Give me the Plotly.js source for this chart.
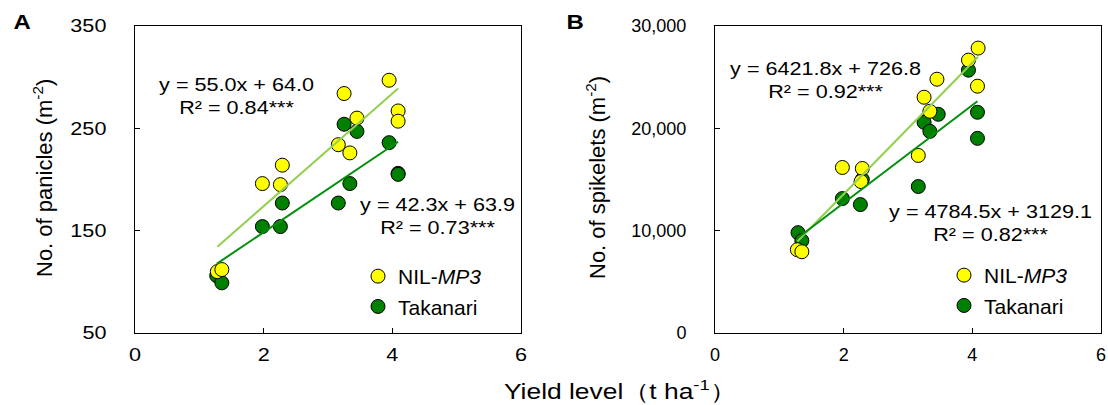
<!DOCTYPE html>
<html>
<head>
<meta charset="utf-8">
<script src="https://cdn.plot.ly/plotly-3.0.1.min.js"></script>
<style>html,body{margin:0;padding:0;background:#fff}#chart{width:1108px;height:405px}</style>
</head>
<body>
<div id="chart"></div>
<script>
// ---- Data ----
const xTicks = [0, 2, 4, 6];

// Panel A: panicles
const yieldA_NIL = [3.95, 3.25, 3.45, 4.09, 4.09, 3.16, 3.34, 2.29, 1.98, 2.26, 1.28, 1.35];
const paniclesNIL = [297, 284, 260, 267, 257, 234, 226, 214, 196, 195, 110, 112];
const yieldA_Tak = [3.25, 3.45, 3.95, 4.09, 4.09, 3.34, 3.16, 2.29, 1.98, 2.26, 1.27, 1.35];
const paniclesTak = [254, 247, 236, 206, 205, 196, 177, 177, 154, 154, 106, 99];
const panicleTicks = [50, 150, 250, 350];

// Panel B: spikelets
const yieldB_NIL = [4.09, 3.94, 3.45, 4.08, 3.25, 3.34, 3.16, 1.98, 2.29, 2.27, 1.28, 1.35];
const spikeletsNIL = [27843, 26667, 24800, 24118, 23040, 21667, 17350, 16176, 16078, 14800, 8137, 7941];
const yieldB_Tak = [3.94, 4.08, 4.08, 3.47, 3.25, 3.34, 3.16, 1.98, 2.26, 2.29, 1.29, 1.35];
const spikeletsTak = [25686, 21570, 19020, 21372, 20588, 19706, 14314, 13137, 12549, 15000, 9804, 9020];
const spikeletTicks = [0, 10000, 20000, 30000];

// Regression equations [slope, intercept]
const fitA_NIL = [55.0, 64.0];
const fitA_Tak = [42.3, 63.9];
const fitB_NIL = [6421.8, 726.8];
const fitB_Tak = [4784.5, 3129.1];

const labelsA = ["y = 55.0x + 64.0<br>R² = 0.84***", "y = 42.3x + 63.9<br>R² = 0.73***"];
const labelsB = ["y = 6421.8x + 726.8<br>R² = 0.92***", "y = 4784.5x + 3129.1<br>R² = 0.82***"];
const seriesNames = ["NIL-<i>MP3</i>", "Takanari"];

// ---- Styling ----
const FONT = '"Liberation Sans", Arial, sans-serif';
const YEL = '#ffff00', GRN = '#008000';
const LINE_YEL = '#92d050', LINE_GRN = '#00900a';
const STRETCH = 1.2; // the reference's text is horizontally wider than plain Arial

function fitLine(xs, fit) {
  const x0 = Math.min(...xs), x1 = Math.max(...xs);
  return { x: [x0, x1], y: [fit[0] * x0 + fit[1], fit[0] * x1 + fit[1]] };
}
function markers(color) {
  return { size: 14, color: color, line: { color: '#000', width: 1 } };
}

const lA1 = fitLine(yieldA_NIL, fitA_NIL), lA2 = fitLine(yieldA_Tak, fitA_Tak);
const lB1 = fitLine(yieldB_NIL, fitB_NIL), lB2 = fitLine(yieldB_Tak, fitB_Tak);

const traces = [
  { x: yieldA_Tak, y: paniclesTak, mode: 'markers', type: 'scatter', name: seriesNames[1], marker: markers(GRN), xaxis: 'x', yaxis: 'y', legend: 'legend', legendrank: 2, legendgroup: 'a2' },
  { x: yieldA_NIL, y: paniclesNIL, mode: 'markers', type: 'scatter', name: seriesNames[0], marker: markers(YEL), xaxis: 'x', yaxis: 'y', legend: 'legend', legendrank: 1, legendgroup: 'a1' },
  { x: lA1.x, y: lA1.y, mode: 'lines', type: 'scatter', line: { color: LINE_YEL, width: 2 }, showlegend: false, xaxis: 'x', yaxis: 'y' },
  { x: lA2.x, y: lA2.y, mode: 'lines', type: 'scatter', line: { color: LINE_GRN, width: 2 }, showlegend: false, xaxis: 'x', yaxis: 'y' },

  { x: yieldB_Tak, y: spikeletsTak, mode: 'markers', type: 'scatter', name: seriesNames[1], marker: markers(GRN), xaxis: 'x2', yaxis: 'y2', legend: 'legend2', legendrank: 2, legendgroup: 'b2' },
  { x: yieldB_NIL, y: spikeletsNIL, mode: 'markers', type: 'scatter', name: seriesNames[0], marker: markers(YEL), xaxis: 'x2', yaxis: 'y2', legend: 'legend2', legendrank: 1, legendgroup: 'b1' },
  { x: lB1.x, y: lB1.y, mode: 'lines', type: 'scatter', line: { color: LINE_YEL, width: 2 }, showlegend: false, xaxis: 'x2', yaxis: 'y2' },
  { x: lB2.x, y: lB2.y, mode: 'lines', type: 'scatter', line: { color: LINE_GRN, width: 2 }, showlegend: false, xaxis: 'x2', yaxis: 'y2' }
];

const W = 1108, H = 405;
const px = v => v / W, py = v => 1 - v / H;

function xAxis(domain, anchor) {
  return {
    domain: domain, anchor: anchor, range: [0, 6], tickvals: xTicks, ticktext: xTicks.map(String),
    ticks: 'inside', ticklen: 5, tickcolor: '#000', showline: true, linecolor: '#000', linewidth: 1,
    mirror: true, showgrid: false, zeroline: false, tickfont: { family: FONT, size: 18, color: '#000' },
    ticklabelstandoff: 5
  };
}
function yAxis(domain, anchor, range, ticks, fmt) {
  return {
    domain: domain, anchor: anchor, range: range, tickvals: ticks, tickformat: fmt,
    ticks: 'inside', ticklen: 5, tickcolor: '#000', showline: true, linecolor: '#000', linewidth: 1,
    mirror: true, showgrid: false, zeroline: false, tickfont: { family: FONT, size: 18, color: '#000' },
    ticklabelstandoff: 24
  };
}

const yDom = [py(333), py(26)];
const ann = (x, y, text, size, extra) => Object.assign({
  xref: 'paper', yref: 'paper', x: px(x), y: py(y), text: text, showarrow: false,
  xanchor: 'center', yanchor: 'middle', font: { family: FONT, size: size, color: '#000' }
}, extra || {});

const legendStyle = (x, y) => ({
  x: px(x), y: py(y), xanchor: 'left', yanchor: 'top', bgcolor: 'rgba(0,0,0,0)',
  font: { family: FONT, size: 21, color: '#000' }, traceorder: 'grouped', tracegroupgap: 0,
  itemwidth: 30
});

const layout = {
  width: W, height: H,
  margin: { l: 0, r: 0, t: 0, b: 0 },
  paper_bgcolor: '#fff', plot_bgcolor: '#fff',
  font: { family: FONT, color: '#000' },
  xaxis: xAxis([px(135), px(521)], 'y'),
  yaxis: yAxis(yDom, 'x', [50, 350], panicleTicks, 'd'),
  xaxis2: xAxis([px(715), px(1101)], 'y2'),
  yaxis2: yAxis(yDom, 'x2', [0, 30000], spikeletTicks, ','),
  legend: legendStyle(358, 256),
  legend2: legendStyle(944, 255),
  annotations: [
    ann(22, 22, '<b>A</b>', 20),
    ann(575, 22, '<b>B</b>', 20),
    ann(43, 178, 'No. of panicles (m<sup>-2</sup>)', 22, { textangle: -90 }),
    ann(596, 178, 'No. of spikelets (m<sup>-2</sup>)', 22, { textangle: -90 }),
    ann(620, 390, 'Yield level（t ha<sup>-1</sup>）', 22),
    ann(237, 96, labelsA[0], 18),
    ann(437, 216, labelsA[1], 18),
    ann(825, 80, labelsB[0], 18),
    ann(990, 224, labelsB[1], 18)
  ]
};

const MARK = 'scale(' + STRETCH + ',1)';
function widenText(el) {
  const prev = el.getAttribute('transform') || '';
  if (prev.indexOf(MARK) !== -1) return;
  const bb = el.getBBox();
  if (!bb || !bb.width) return;
  const ta = el.getAttribute('text-anchor') || 'start';
  const ax = ta === 'end' ? bb.x + bb.width : (ta === 'middle' ? bb.x + bb.width / 2 : bb.x);
  el.setAttribute('transform', prev + ' translate(' + ax + ',0) ' + MARK + ' translate(' + (-ax) + ',0)');
}
function widenAll(gd) {
  gd.querySelectorAll('.xtick text, .ytick text').forEach(widenText);
  gd.querySelectorAll('.annotation').forEach(g => {
    const idx = +g.getAttribute('data-index');
    if (idx === 2 || idx === 3) return; // rotated axis titles
    g.querySelectorAll('text').forEach(widenText);
  });
}

Plotly.newPlot('chart', traces, layout, { staticPlot: true, displayModeBar: false }).then(gd => {
  widenAll(gd);
  if (gd.on) gd.on('plotly_afterplot', () => widenAll(gd));
});
</script>
</body>
</html>
